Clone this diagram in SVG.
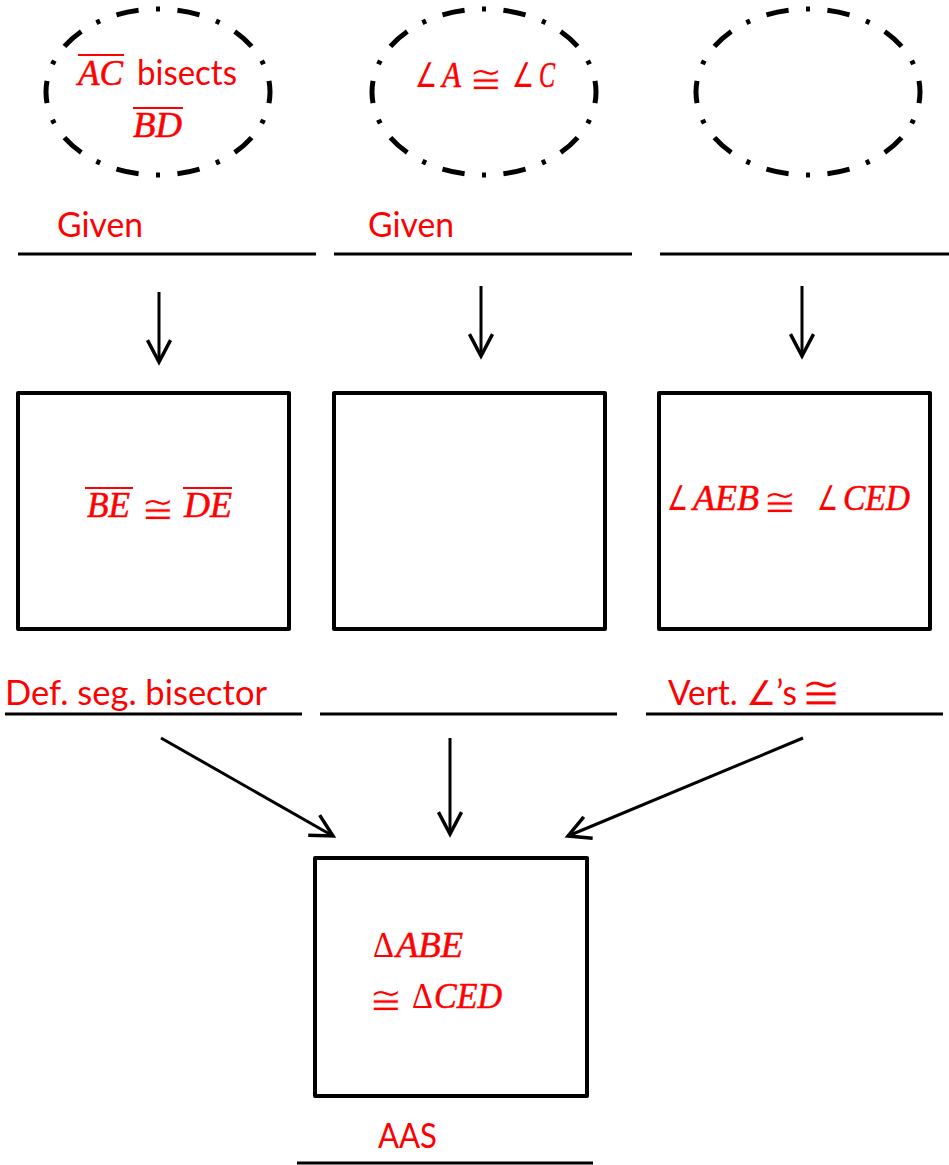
<svg xmlns="http://www.w3.org/2000/svg" width="949" height="1165" viewBox="0 0 949 1165">
  <style>
    .ell { fill: none; stroke: #000; stroke-width: 5; stroke-dasharray: 22 17 4 17; stroke-dashoffset: 11; }
    .box { fill: none; stroke: #000; stroke-width: 4; stroke-linejoin: round; }
    .rule { stroke: #000; stroke-width: 3; }
    .arrow { stroke: #000; stroke-width: 3; fill: none; marker-end: url(#head); }
    .lbl { font-family: Lato, "DejaVu Sans", sans-serif; font-size: 34px; fill: #ff0000; }
    .sym { font-family: Lato, "DejaVu Sans", sans-serif; font-size: 34px; fill: #ff0000; }
    /* white outline thins the heavy congruence glyph */
    .cong { font-family: "DejaVu Sans", sans-serif; font-size: 40px; fill: #ff0000; stroke: #fff; stroke-width: 0.8; text-anchor: middle; }
    .mi { font-family: "Liberation Serif", "DejaVu Serif", serif; font-style: italic; font-size: 35px; fill: #ff0000; stroke: #ff0000; stroke-width: 0.5; }
    .gk { font-family: "Liberation Serif", "DejaVu Serif", serif; font-size: 35px; fill: #ff0000; }
    .ov { stroke: #ff0000; stroke-width: 2; }
  </style>
  <defs>
    <marker id="head" markerUnits="userSpaceOnUse" markerWidth="30" markerHeight="30" viewBox="-22 -12 26 24" refX="0" refY="0" orient="auto">
      <path d="M -19 -10 L 0 0 L -19 10" fill="none" stroke="#000" stroke-width="3"/>
    </marker>
  </defs>

  <!-- statement ovals -->
  <g id="given1">
    <ellipse class="ell" cx="158" cy="92" rx="112" ry="83" pathLength="600"/>
    <text class="mi" x="78" y="85" textLength="45" lengthAdjust="spacingAndGlyphs">AC</text>
    <line class="ov" x1="78" y1="55" x2="124" y2="55"/>
    <text class="lbl" x="137" y="85" textLength="100" lengthAdjust="spacingAndGlyphs">bisects</text>
    <text class="mi" x="133" y="137" textLength="49" lengthAdjust="spacingAndGlyphs">BD</text>
    <line class="ov" x1="133" y1="108" x2="183" y2="108"/>
  </g>
  <g id="given2">
    <ellipse class="ell" cx="484" cy="92" rx="112" ry="83" pathLength="600"/>
    <text class="sym" x="415" y="87" textLength="22" lengthAdjust="spacingAndGlyphs">∠</text>
    <text class="mi" x="442" y="87" textLength="19" lengthAdjust="spacingAndGlyphs">A</text>
    <text class="cong" x="486" y="92.5">≅</text>
    <text class="sym" x="512" y="87" textLength="22" lengthAdjust="spacingAndGlyphs">∠</text>
    <text class="mi" x="539" y="87" textLength="16" lengthAdjust="spacingAndGlyphs">C</text>
  </g>
  <g id="given3">
    <ellipse class="ell" cx="808" cy="92" rx="112" ry="83" pathLength="600"/>
  </g>

  <!-- reason lines, top row -->
  <g id="reason1">
    <line class="rule" x1="18" y1="254" x2="316" y2="254"/>
    <text class="lbl" x="57" y="237" textLength="86" lengthAdjust="spacingAndGlyphs">Given</text>
  </g>
  <g id="reason2">
    <line class="rule" x1="334" y1="254" x2="632" y2="254"/>
    <text class="lbl" x="368" y="237" textLength="86" lengthAdjust="spacingAndGlyphs">Given</text>
  </g>
  <g id="reason3">
    <line class="rule" x1="660" y1="254" x2="949" y2="254"/>
  </g>

  <!-- derived statements -->
  <g id="stmt1">
    <rect class="box" x="18" y="393" width="271" height="236"/>
    <text class="mi" x="87" y="517" textLength="43" lengthAdjust="spacingAndGlyphs">BE</text>
    <line class="ov" x1="85" y1="488" x2="133" y2="488"/>
    <text class="cong" x="158" y="522.5">≅</text>
    <text class="mi" x="184" y="517" textLength="48" lengthAdjust="spacingAndGlyphs">DE</text>
    <line class="ov" x1="183" y1="488" x2="232" y2="488"/>
  </g>
  <g id="stmt2">
    <rect class="box" x="334" y="393" width="271" height="236"/>
  </g>
  <g id="stmt3">
    <rect class="box" x="659" y="393" width="271" height="236"/>
    <text class="sym" x="667" y="510" textLength="21" lengthAdjust="spacingAndGlyphs">∠</text>
    <text class="mi" x="693" y="510" textLength="66" lengthAdjust="spacingAndGlyphs">AEB</text>
    <text class="cong" x="780" y="515.5">≅</text>
    <text class="sym" x="817" y="510" textLength="21" lengthAdjust="spacingAndGlyphs">∠</text>
    <text class="mi" x="843" y="510" textLength="67" lengthAdjust="spacingAndGlyphs">CED</text>
  </g>

  <!-- reason lines, middle row -->
  <g id="reason4">
    <line class="rule" x1="5" y1="714" x2="302" y2="714"/>
    <text class="lbl" x="5" y="705" textLength="262" lengthAdjust="spacingAndGlyphs">Def. seg. bisector</text>
  </g>
  <g id="reason5">
    <line class="rule" x1="320" y1="714" x2="617" y2="714"/>
  </g>
  <g id="reason6">
    <line class="rule" x1="646" y1="714" x2="943" y2="714"/>
    <text class="lbl" y="705"><tspan x="668" textLength="129" lengthAdjust="spacingAndGlyphs">Vert. ∠’s</tspan><tspan class="cong" x="821" y="709" style="font-size:48px">≅</tspan></text>
  </g>

  <!-- conclusion -->
  <g id="conclusion">
    <rect class="box" x="315" y="858" width="272" height="238"/>
    <text class="gk" x="373" y="957" textLength="21" lengthAdjust="spacingAndGlyphs">Δ</text>
    <text class="mi" x="396" y="957" textLength="67" lengthAdjust="spacingAndGlyphs">ABE</text>
    <text class="cong" x="386" y="1013.5">≅</text>
    <text class="gk" x="412" y="1008" textLength="21" lengthAdjust="spacingAndGlyphs">Δ</text>
    <text class="mi" x="434" y="1008" textLength="68" lengthAdjust="spacingAndGlyphs">CED</text>
  </g>
  <g id="reason7">
    <line class="rule" x1="297" y1="1163" x2="593" y2="1163"/>
    <text class="lbl" x="378" y="1148" textLength="59" lengthAdjust="spacingAndGlyphs">AAS</text>
  </g>

  <!-- connectors -->
  <g id="connectors">
    <line class="arrow" x1="159" y1="292" x2="159" y2="362"/>
    <line class="arrow" x1="481" y1="286" x2="481" y2="356"/>
    <line class="arrow" x1="802" y1="286" x2="802" y2="356"/>
    <line class="arrow" x1="161" y1="738" x2="333" y2="836"/>
    <line class="arrow" x1="450" y1="738" x2="450" y2="834"/>
    <line class="arrow" x1="803" y1="738" x2="568" y2="836"/>
  </g>
</svg>
